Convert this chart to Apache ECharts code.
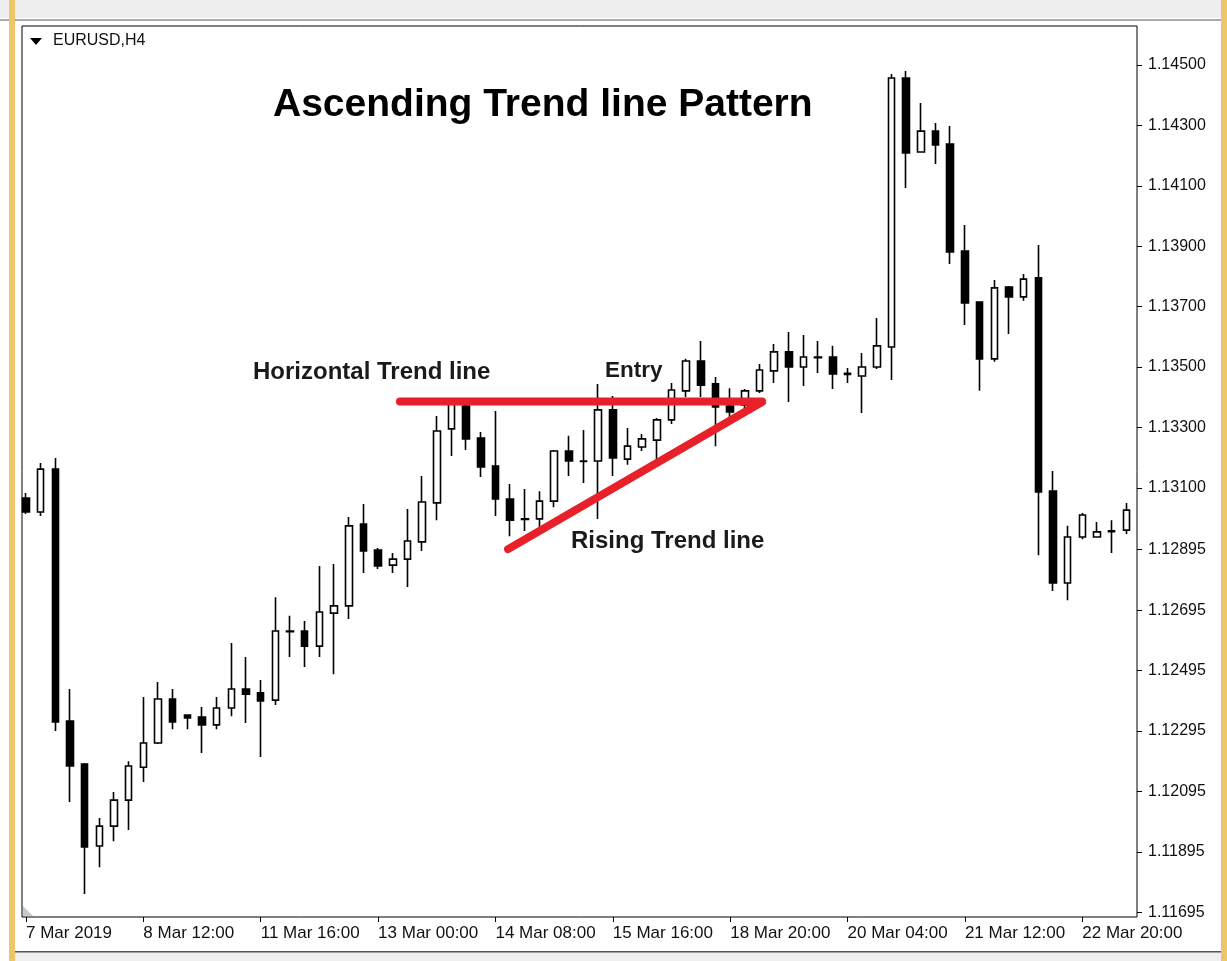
<!DOCTYPE html>
<html>
<head>
<meta charset="utf-8">
<title>EURUSD,H4</title>
<script src="https://cdn.jsdelivr.net/npm/echarts@6/dist/echarts.min.js"></script>
<style>
  body { margin: 0; background: #fff; }
  #main { width: 1227px; height: 961px; }
</style>
</head>
<body>
<div id="main"></div>
<script>
  // 蜡烛数据 (EURUSD H4)
  var opens = [1.13066, 1.13020, 1.13162, 1.12328, 1.12185, 1.11914, 1.11980, 1.12066, 1.12175, 1.12255,
    1.12401, 1.12348, 1.12341, 1.12315, 1.12371, 1.12434, 1.12421, 1.12397, 1.12624, 1.12626,
    1.12576, 1.12685, 1.12709, 1.12980, 1.12894, 1.12844, 1.12864, 1.12921, 1.13050, 1.13295,
    1.13371, 1.13265, 1.13172, 1.13063, 1.12997, 1.12997, 1.13056, 1.13222, 1.13189, 1.13189,
    1.13358, 1.13195, 1.13235, 1.13258, 1.13325, 1.13421, 1.13520, 1.13444, 1.13371, 1.13374,
    1.13421, 1.13487, 1.13550, 1.13500, 1.13533, 1.13533, 1.13479, 1.13470, 1.13500, 1.13566,
    1.14457, 1.14212, 1.14281, 1.14238, 1.13884, 1.13715, 1.13527, 1.13765, 1.13732, 1.13795,
    1.13089, 1.12785, 1.12937, 1.12937, 1.12958, 1.12960];
  var closes = [1.13020, 1.13162, 1.12325, 1.12179, 1.11911, 1.11980, 1.12066, 1.12179, 1.12255, 1.12401,
    1.12325, 1.12338, 1.12315, 1.12371, 1.12434, 1.12417, 1.12394, 1.12626, 1.12626, 1.12576,
    1.12689, 1.12709, 1.12974, 1.12891, 1.12841, 1.12864, 1.12924, 1.13053, 1.13288, 1.13377,
    1.13262, 1.13169, 1.13063, 1.12993, 1.12995, 1.13056, 1.13222, 1.13189, 1.13187, 1.13358,
    1.13199, 1.13238, 1.13262, 1.13325, 1.13424, 1.13520, 1.13440, 1.13368, 1.13351, 1.13421,
    1.13490, 1.13550, 1.13500, 1.13533, 1.13531, 1.13477, 1.13475, 1.13500, 1.13570, 1.14457,
    1.14209, 1.14281, 1.14235, 1.13881, 1.13712, 1.13527, 1.13762, 1.13732, 1.13791, 1.13086,
    1.12785, 1.12937, 1.13010, 1.12954, 1.12955, 1.13026];
  var lows = [1.13013, 1.13007, 1.12295, 1.12060, 1.11755, 1.11844, 1.11930, 1.11967, 1.12126, 1.12252,
    1.12301, 1.12301, 1.12222, 1.12301, 1.12344, 1.12321, 1.12209, 1.12381, 1.12540, 1.12507,
    1.12540, 1.12483, 1.12666, 1.12818, 1.12831, 1.12818, 1.12772, 1.12891, 1.12993, 1.13205,
    1.13225, 1.13136, 1.13007, 1.12940, 1.12957, 1.12970, 1.13036, 1.13139, 1.13116, 1.12997,
    1.13139, 1.13176, 1.13222, 1.13195, 1.13311, 1.13401, 1.13401, 1.13238, 1.13334, 1.13364,
    1.13414, 1.13447, 1.13384, 1.13437, 1.13480, 1.13427, 1.13447, 1.13348, 1.13493, 1.13457,
    1.14093, 1.14210, 1.14172, 1.13841, 1.13639, 1.13421, 1.13517, 1.13609, 1.13719, 1.12877,
    1.12758, 1.12728, 1.12930, 1.12935, 1.12884, 1.12947];
  var highs = [1.13083, 1.13182, 1.13199, 1.12434, 1.12189, 1.12007, 1.12093, 1.12195, 1.12407, 1.12457,
    1.12434, 1.12349, 1.12374, 1.12407, 1.12586, 1.12540, 1.12464, 1.12738, 1.12676, 1.12659,
    1.12841, 1.12848, 1.13003, 1.13046, 1.12901, 1.12884, 1.13030, 1.13139, 1.13338, 1.13397,
    1.13391, 1.13285, 1.13354, 1.13113, 1.13096, 1.13089, 1.13225, 1.13272, 1.13291, 1.13444,
    1.13404, 1.13298, 1.13278, 1.13331, 1.13447, 1.13527, 1.13586, 1.13467, 1.13430, 1.13427,
    1.13510, 1.13576, 1.13616, 1.13606, 1.13586, 1.13570, 1.13497, 1.13546, 1.13662, 1.14470,
    1.14480, 1.14374, 1.14308, 1.14298, 1.13970, 1.13718, 1.13788, 1.13768, 1.13808, 1.13904,
    1.13156, 1.12974, 1.13017, 1.12987, 1.12993, 1.13050];

  // 坐标轴刻度
  var timeLabels = ['7 Mar 2019', '8 Mar 12:00', '11 Mar 16:00', '13 Mar 00:00', '14 Mar 08:00',
    '15 Mar 16:00', '18 Mar 20:00', '20 Mar 04:00', '21 Mar 12:00', '22 Mar 20:00'];
  var timeTickBars = [0, 8, 16, 24, 32, 40, 48, 56, 64, 72];
  var priceTicks = [1.11695, 1.11895, 1.12095, 1.12295, 1.12495, 1.12695, 1.12895,
    1.13100, 1.13300, 1.13500, 1.13700, 1.13900, 1.14100, 1.14300, 1.14500];

  // 趋势线 [bar, price]
  var horizontalLine = [[25.49, 1.13386], [50.17, 1.13386]];
  var risingLine = [[32.86, 1.12897], [50.17, 1.13384]];

  var candleData = [];
  for (var i = 0; i < opens.length; i++) {
    candleData.push([i, opens[i], closes[i], lows[i], highs[i]]);
  }

  var font = '"Liberation Sans", Arial, sans-serif';
  var myChart = echarts.init(document.getElementById('main'));

  var option = {
    animation: false,
    backgroundColor: '#fff',
    grid: {
      show: true,
      left: 22,
      top: 26,
      right: 90,
      bottom: 44,
      borderColor: '#000',
      borderWidth: 1,
      backgroundColor: '#fff'
    },
    xAxis: {
      type: 'value',
      min: -0.273,
      max: 75.73,
      axisLine: { show: false, onZero: false },
      splitLine: { show: false },
      axisTick: {
        show: true,
        length: 5,
        customValues: timeTickBars,
        lineStyle: { color: '#000', width: 1 }
      },
      axisLabel: {
        customValues: timeTickBars,
        align: 'left',
        margin: 8,
        color: '#111',
        fontSize: 17,
        fontFamily: font,
        formatter: function (v) {
          return timeLabels[Math.round(v / 8)];
        }
      }
    },
    yAxis: {
      type: 'value',
      position: 'right',
      min: 1.11679,
      max: 1.14629,
      axisLine: { show: false, onZero: false },
      splitLine: { show: false },
      axisTick: {
        show: true,
        length: 5,
        customValues: priceTicks,
        lineStyle: { color: '#000', width: 1 }
      },
      axisLabel: {
        customValues: priceTicks,
        margin: 11,
        color: '#111',
        fontSize: 16,
        fontFamily: font,
        formatter: function (v) {
          return v.toFixed(5);
        }
      }
    },
    series: [
      {
        type: 'candlestick',
        barWidth: 7,
        clip: true,
        itemStyle: {
          color: '#fff',
          color0: '#000',
          borderColor: '#000',
          borderColor0: '#000',
          borderWidth: 1.6
        },
        data: candleData
      },
      {
        type: 'line',
        symbol: 'none',
        z: 5,
        lineStyle: { color: '#e8202a', width: 8, cap: 'round' },
        data: horizontalLine
      },
      {
        type: 'line',
        symbol: 'none',
        z: 5,
        lineStyle: { color: '#e8202a', width: 8, cap: 'round' },
        data: risingLine
      }
    ],
    graphic: [
      { type: 'rect', shape: { x: 0, y: 0, width: 1227, height: 18 }, style: { fill: '#eeeeee' }, silent: true },
      { type: 'rect', shape: { x: 0, y: 19, width: 1221, height: 2 }, style: { fill: '#a9a9a9' }, silent: true },
      { type: 'rect', shape: { x: 9, y: 0, width: 6, height: 961 }, style: { fill: '#efc46b' }, silent: true },
      { type: 'rect', shape: { x: 1221, y: 0, width: 6, height: 961 }, style: { fill: '#efc46b' }, silent: true },
      { type: 'rect', shape: { x: 15, y: 951, width: 1206, height: 10 }, style: { fill: '#efefef' }, silent: true },
      { type: 'rect', shape: { x: 15, y: 951, width: 1206, height: 1.5 }, style: { fill: '#555' }, silent: true },
      { type: 'polygon', shape: { points: [[23, 906], [23, 916], [33, 916]] }, style: { fill: '#c9c9c9' }, silent: true },
      { type: 'polygon', shape: { points: [[30, 38], [42, 38], [36, 45]] }, style: { fill: '#000' }, silent: true },
      {
        type: 'text', x: 53, y: 41, z: 100, silent: true,
        style: { text: 'EURUSD,H4', fill: '#111', font: '16px ' + font, verticalAlign: 'middle' }
      },
      {
        type: 'text', x: 273, y: 105, z: 100, silent: true,
        style: { text: 'Ascending Trend line Pattern', fill: '#000', font: 'bold 39px ' + font, verticalAlign: 'middle' }
      },
      {
        type: 'text', x: 253, y: 372, z: 100, silent: true,
        style: { text: 'Horizontal Trend line', fill: '#1a1a1a', font: 'bold 24px ' + font, verticalAlign: 'middle' }
      },
      {
        type: 'text', x: 605, y: 371, z: 100, silent: true,
        style: { text: 'Entry', fill: '#1a1a1a', font: 'bold 22.5px ' + font, verticalAlign: 'middle' }
      },
      {
        type: 'text', x: 571, y: 541, z: 100, silent: true,
        style: { text: 'Rising Trend line', fill: '#1a1a1a', font: 'bold 24px ' + font, verticalAlign: 'middle' }
      }
    ]
  };

  myChart.setOption(option);
</script>
</body>
</html>
